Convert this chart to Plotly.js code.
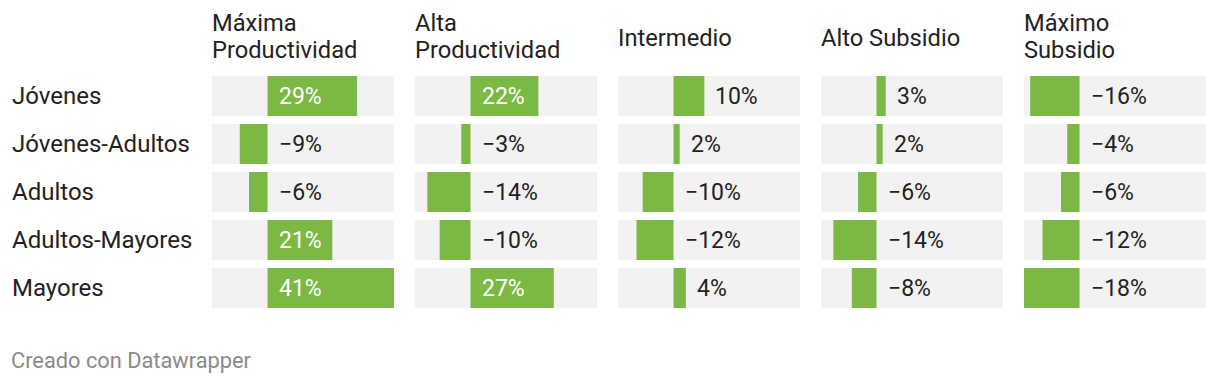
<!DOCTYPE html>
<html>
<head>
<meta charset="utf-8">
<script src="https://cdn.plot.ly/plotly-3.0.1.min.js"></script>
<style>
html,body{margin:0;padding:0;background:#fff;}
#chart{width:1220px;height:384px;}
</style>
</head>
<body>
<div id="chart"></div>
<script>
// ---- data ----
const rowLabels = ["Jóvenes", "Jóvenes-Adultos", "Adultos", "Adultos-Mayores", "Mayores"];
const columnTitles = [
  ["Máxima", "Productividad"],
  ["Alta", "Productividad"],
  ["Intermedio"],
  ["Alto Subsidio"],
  ["Máximo", "Subsidio"]
];
const maximaProductividad = [29, -9, -6, 21, 41];
const altaProductividad   = [22, -3, -14, -10, 27];
const intermedio          = [10, 2, -10, -12, 4];
const altoSubsidio        = [3, 2, -6, -14, -8];
const maximoSubsidio      = [-16, -4, -6, -12, -18];
const series = [maximaProductividad, altaProductividad, intermedio, altoSubsidio, maximoSubsidio];
const footer = "Creado con Datawrapper";

// ---- layout constants ----
const W = 1220, H = 384;
const GREEN = "#7cb944", GREY = "#f2f2f2", DARK = "#222222";
const FONT = "Roboto, 'Noto Sans', sans-serif";
const xRange = [-18, 41];
const colLeft0 = 212, colPitch = 203, colWidth = 182;
const rowTop = 72, rowPitch = 48, nRows = rowLabels.length;
const barW = 40 / 48;

const px = v => v / W;
const py = v => 1 - v / H;

const traces = [];
const shapes = [];
const annotations = [];
const layout = {
  width: W, height: H,
  margin: {l: 0, r: 0, t: 0, b: 0},
  paper_bgcolor: "#fff", plot_bgcolor: "rgba(0,0,0,0)",
  showlegend: false,
  barmode: "overlay",
  hovermode: false,
  font: {family: FONT, color: DARK},
  yaxis: {
    domain: [py(rowTop + rowPitch * nRows), py(rowTop)],
    range: [nRows - 0.5, -0.5],
    showticklabels: false, showgrid: false, zeroline: false, showline: false,
    fixedrange: true
  },
  shapes: shapes,
  annotations: annotations
};

const yIdx = rowLabels.map((_, i) => i);

series.forEach((vals, c) => {
  const ax = c === 0 ? "x" : "x" + (c + 1);
  const axKey = c === 0 ? "xaxis" : "xaxis" + (c + 1);
  const left = colLeft0 + colPitch * c;
  layout[axKey] = {
    domain: [px(left), px(left + colWidth)],
    range: xRange,
    anchor: "y",
    showticklabels: false, showgrid: false, zeroline: false, showline: false,
    fixedrange: true
  };
  // grey row backgrounds
  yIdx.forEach(i => {
    shapes.push({
      type: "rect", layer: "below",
      xref: ax + " domain", yref: "y",
      x0: 0, x1: 1, y0: i - barW / 2, y1: i + barW / 2,
      fillcolor: GREY, line: {width: 0}
    });
  });
  traces.push({
    type: "bar", orientation: "h",
    x: vals, y: yIdx,
    xaxis: ax, yaxis: "y",
    width: barW,
    marker: {color: GREEN, line: {width: 0}},
    hoverinfo: "skip"
  });
  // value labels
  vals.forEach((v, i) => {
    const txt = (v < 0 ? "\u2212" : "") + Math.abs(v) + "%";
    const inside = v > 15;
    annotations.push({
      xref: ax, yref: "y",
      x: (v > 0 && !inside) ? v : 0, y: i,
      xanchor: "left", yanchor: "middle",
      xshift: 9,
      text: txt, showarrow: false,
      font: {family: FONT, size: 23, color: inside ? "#ffffff" : DARK}
    });
  });
  // column headers
  const lines = columnTitles[c];
  const centers = lines.length === 2 ? [23.5, 50.5] : [37.5];
  lines.forEach((ln, k) => {
    annotations.push({
      xref: "paper", yref: "paper",
      x: px(left - 2), y: py(centers[k]),
      xanchor: "left", yanchor: "middle",
      text: ln, showarrow: false,
      font: {family: FONT, size: 23.7, color: DARK}
    });
  });
});

// row labels
rowLabels.forEach((lab, i) => {
  annotations.push({
    xref: "paper", yref: "y",
    x: px(10), y: i,
    xanchor: "left", yanchor: "middle",
    text: lab, showarrow: false,
    font: {family: FONT, size: 24, color: DARK}
  });
});

// footer
annotations.push({
  xref: "paper", yref: "paper",
  x: px(9), y: py(360),
  xanchor: "left", yanchor: "middle",
  text: footer, showarrow: false,
  font: {family: FONT, size: 21.8, color: "#8a8a8a"}
});

Plotly.newPlot("chart", traces, layout, {displayModeBar: false, staticPlot: true});
</script>
</body>
</html>
